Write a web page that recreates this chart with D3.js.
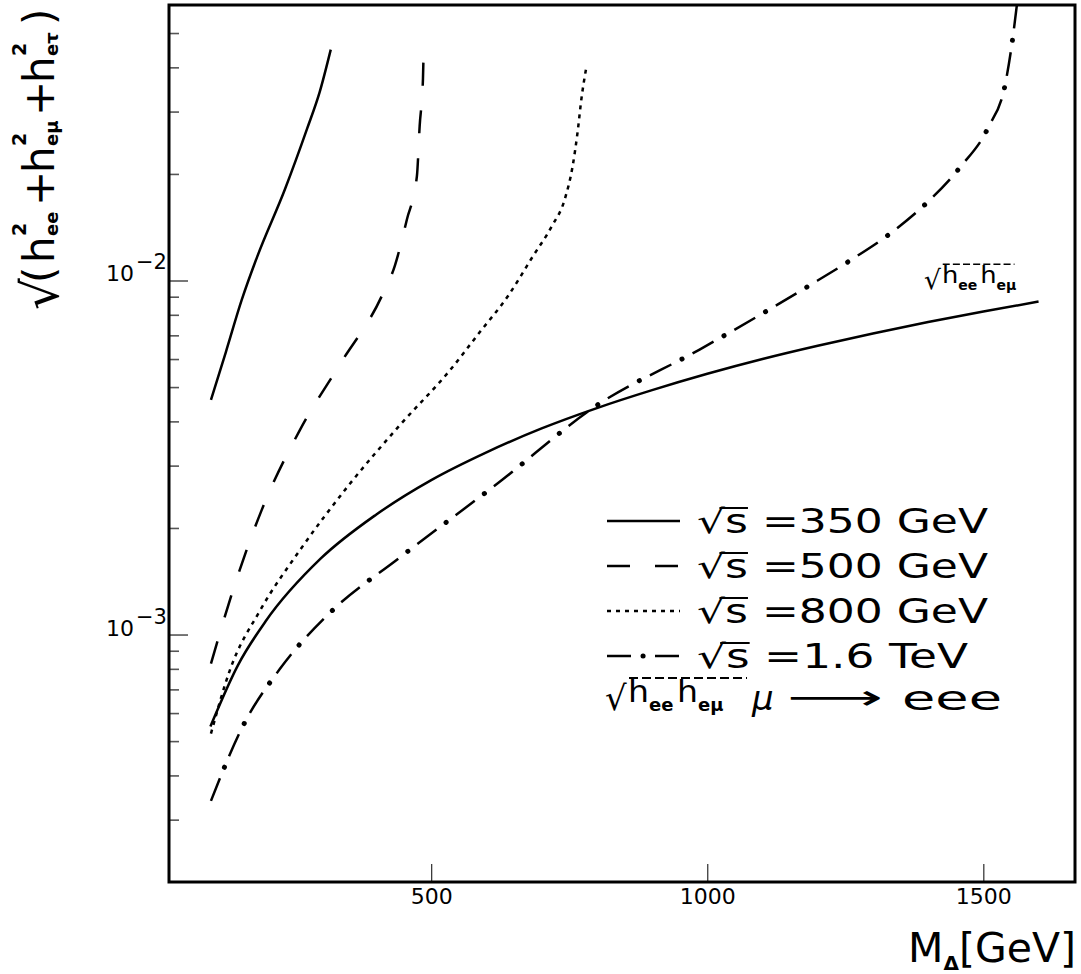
<!DOCTYPE html>
<html><head><meta charset="utf-8">
<script src="https://cdn.jsdelivr.net/npm/d3@7"></script>
<style>
body{margin:0;background:#fff}
svg{display:block}
text{font-family:"DejaVu Sans",sans-serif;fill:#000}
</style>
</head><body>
<svg id="chart" width="1081" height="974"></svg>
<script>
// ---------------- data ----------------
const massTicks = [500, 1000, 1500];
const majorYTicks = [1e-3, 1e-2];
const majorYExponents = ["\u22123", "\u22122"];
const minorYTicks = [3e-4,4e-4,5e-4,6e-4,7e-4,8e-4,9e-4,2e-3,3e-3,4e-3,5e-3,6e-3,7e-3,8e-3,9e-3,2e-2,3e-2,4e-2,5e-2];

const legendLabels = ["\u221As =350 GeV", "\u221As =500 GeV", "\u221As =800 GeV", "\u221As =1.6 TeV"];

// sqrt(s) = 350 GeV  (solid)
const m350 = [101, 128, 157, 185, 235, 275, 298, 318];
const h350 = [4.6e-3, 6.28e-3, 8.84e-3, 1.17e-2, 1.81e-2, 2.68e-2, 3.41e-2, 4.49e-2];
// sqrt(s) = 500 GeV  (dashed)
const m500 = [101, 144, 193, 262, 334, 410, 434, 456, 474, 479, 485, 486];
const h500 = [8.28e-4, 1.38e-3, 2.25e-3, 3.78e-3, 5.78e-3, 9.01e-3, 1.10e-2, 1.49e-2, 1.97e-2, 2.73e-2, 3.71e-2, 4.34e-2];
// sqrt(s) = 800 GeV  (dotted)
const m800 = [101, 135, 190, 262, 353, 443, 534, 588, 639, 684, 718, 742, 756, 765, 772, 781];
const h800 = [5.25e-4, 7.91e-4, 1.17e-3, 1.73e-3, 2.67e-3, 3.90e-3, 5.58e-3, 7.15e-3, 9.04e-3, 1.17e-2, 1.42e-2, 1.70e-2, 2.10e-2, 2.62e-2, 3.26e-2, 4.01e-2];
// sqrt(s) = 1.6 TeV  (dash-dot)
const m1600 = [101, 159, 226, 316, 443, 624, 799, 986, 1185, 1259, 1332, 1398, 1458, 1509, 1540, 1554, 1561];
const h1600 = [3.39e-4, 5.52e-4, 8.0e-4, 1.15e-3, 1.65e-3, 2.70e-3, 4.43e-3, 6.38e-3, 9.68e-3, 1.14e-2, 1.36e-2, 1.66e-2, 2.09e-2, 2.71e-2, 3.61e-2, 4.94e-2, 6.05e-2];
// sqrt(h_ee h_emu) bound from mu -> eee (solid)
const mMu = [100, 150, 200, 300, 400, 500, 600, 700, 800, 900, 1000, 1100, 1200, 1300, 1400, 1500, 1600];
const hMu = [5.5e-4, 8.2e-4, 1.09e-3, 1.64e-3, 2.18e-3, 2.73e-3, 3.27e-3, 3.82e-3, 4.36e-3, 4.9e-3, 5.45e-3, 6.0e-3, 6.54e-3, 7.08e-3, 7.63e-3, 8.17e-3, 8.72e-3];

// ---------------- layout ----------------
const L = 169, R = 1075, T = 5, B = 882;
const svg = d3.select("#chart");
const x = d3.scaleLinear().domain([25, 1666]).range([L, R]);
const y = d3.scaleLog().domain([2e-4, 6e-2]).range([B, T]);

svg.append("defs").append("clipPath").attr("id","plotclip")
  .append("rect").attr("x",L).attr("y",T).attr("width",R-L).attr("height",B-T);

// x axis (ticks pointing inward)
const xAxis = svg.append("g").attr("transform",`translate(0,${B})`)
  .call(d3.axisBottom(x).tickValues(massTicks).tickSizeInner(-18).tickSizeOuter(0).tickPadding(6).tickFormat(d3.format("d")));
xAxis.select(".domain").remove();
xAxis.selectAll(".tick line").attr("stroke","#000").attr("stroke-width",1);
xAxis.selectAll(".tick text").style("font-family","DejaVu Sans").style("font-size","22px").attr("fill","#000");

// y axis major and minor ticks (inward)
const yMaj = svg.append("g").attr("transform",`translate(${L},0)`)
  .call(d3.axisLeft(y).tickValues(majorYTicks).tickSizeInner(-19).tickSizeOuter(0).tickFormat(""));
yMaj.select(".domain").remove();
yMaj.selectAll(".tick line").attr("stroke","#555").attr("stroke-width",1.6);
const yMin = svg.append("g").attr("transform",`translate(${L},0)`)
  .call(d3.axisLeft(y).tickValues(minorYTicks).tickSizeInner(-10).tickSizeOuter(0).tickFormat(""));
yMin.select(".domain").remove();
yMin.selectAll(".tick line").attr("stroke","#555").attr("stroke-width",1.6);

// y tick labels 10^-n
majorYTicks.forEach((v,i)=>{
  const yy = y(v);
  svg.append("text").attr("x",134).attr("y",yy+1).attr("text-anchor","end")
    .style("font-size","22px").text("10");
  svg.append("text").attr("x",136).attr("y",yy-11)
    .style("font-size","21px").text(majorYExponents[i]);
});

// frame
svg.append("rect").attr("x",L).attr("y",T).attr("width",R-L).attr("height",B-T)
  .attr("fill","none").attr("stroke","#000").attr("stroke-width",3);

// ---------------- curves ----------------
const line = d3.line().x(d=>x(d[0])).y(d=>y(d[1])).curve(d3.curveMonotoneX);
const plot = svg.append("g").attr("clip-path","url(#plotclip)");
const zip = (a,b)=>a.map((v,i)=>[v,b[i]]);

function drawStyled(g, pathD, style){
  if(style==="dashdot"){
    g.append("path").attr("d",pathD).attr("fill","none").attr("stroke","#000")
      .attr("stroke-width",2.5).attr("stroke-dasharray","24,24");
    g.append("path").attr("d",pathD).attr("fill","none").attr("stroke","#000")
      .attr("stroke-width",5).attr("stroke-linecap","round")
      .attr("stroke-dasharray","0.1,47.9").attr("stroke-dashoffset",12);
  } else {
    const p = g.append("path").attr("d",pathD).attr("fill","none").attr("stroke","#000").attr("stroke-width",2.5);
    if(style==="dashed") p.attr("stroke-dasharray","23,25");
    if(style==="dotted") p.attr("stroke-dasharray","4,5");
  }
}
drawStyled(plot, line(zip(m350,h350)), "solid");
drawStyled(plot, line(zip(m500,h500)), "dashed");
drawStyled(plot, line(zip(m800,h800)), "dotted");
drawStyled(plot, line(zip(m1600,h1600)), "dashdot");
drawStyled(plot, line(zip(mMu,hMu)), "solid");

// ---------------- legend ----------------
const legendStyles = ["solid","dashed","dotted","dashdot"];
const legendY = [521, 566, 611, 656];
const legendEnd = [988, 988, 988, 968];
legendLabels.forEach((lab,i)=>{
  const ly = legendY[i];
  drawStyled(svg, `M607,${ly}L680,${ly}`, legendStyles[i]);
  const t = svg.append("text").attr("x",697).attr("y",ly+12)
    .style("font-size","33px")
    .attr("textLength",legendEnd[i]-697).attr("lengthAdjust","spacingAndGlyphs")
    .text(lab);
  // bar over the s of the square root
  const n = t.node();
  const s1 = n.getEndPositionOfChar(1).x;
  const r0 = n.getStartPositionOfChar(0).x, r1 = n.getEndPositionOfChar(0).x;
  svg.append("line").attr("x1",r0+(r1-r0)*0.8).attr("x2",s1)
    .attr("y1",ly-13).attr("y2",ly-13).attr("stroke","#000").attr("stroke-width",2);
});

// sqrt(h_ee h_emu) label builder
function sqrtHH(g, x0, base, k, barEnd){
  g.append("text").attr("x",x0).attr("y",base+8*k).style("font-size",(34*k)+"px").text("\u221A");
  const hx = [x0+23*k, x0+72*k];
  const subs = ["ee","e\u03BC"];
  hx.forEach((hxx,i)=>{
    g.append("text").attr("x",hxx).attr("y",base).attr("textLength",21*k).attr("lengthAdjust","spacingAndGlyphs")
      .style("font-size",(30*k)+"px").text("h");
    g.append("text").attr("x",hxx+21*k).attr("y",base+9*k)
      .style("font-size",(18*k)+"px").style("font-weight","bold").text(subs[i]);
  });
  g.append("line").attr("x1",x0+24*k).attr("x2",x0+barEnd*k)
    .attr("y1",base-24*k).attr("y2",base-24*k)
    .attr("stroke","#000").attr("stroke-width",1.8*k).attr("stroke-dasharray",`${9*k},${4*k}`);
}
sqrtHH(svg, 605, 702, 1, 142);
svg.append("text").attr("x",752).attr("y",710).style("font-size","34px").style("font-style","italic").text("\u03BC");
svg.append("text").attr("x",787).attr("y",709).style("font-size","34px")
  .attr("textLength",96).attr("lengthAdjust","spacingAndGlyphs").text("\u27F6");
svg.append("text").attr("x",902).attr("y",710).style("font-size","34px")
  .attr("textLength",100).attr("lengthAdjust","spacingAndGlyphs").text("eee");

// annotation near end of the mu->eee curve
sqrtHH(svg, 924, 283, 0.78, 116);

// ---------------- axis titles ----------------
const xt = svg.append("text").attr("x",1076).attr("y",962).attr("text-anchor","end").style("font-size","41px");
xt.append("tspan").text("M");
xt.append("tspan").attr("dy",8).style("font-size","20px").style("font-weight","bold").text("\u0394");
xt.append("tspan").attr("dy",-8).text("[GeV]");

// y title: sqrt(h_ee^2 + h_emu^2 + h_etau^2), rotated
const yt = svg.append("g").attr("transform","translate(54,310) rotate(-90)");
const F = 42;
yt.append("text").attr("x",0).attr("y",4).style("font-size","50px").text("\u221A");
yt.append("text").attr("x",27).attr("y",0).style("font-size",F+"px").text("(");
function hsq(u, sub){
  yt.append("text").attr("x",u).attr("y",0).style("font-size",F+"px").text("h");
  yt.append("text").attr("x",u+27).attr("y",-28).style("font-size","19px").style("font-weight","bold").text("2");
  yt.append("text").attr("x",u+27).attr("y",4).style("font-size","18px").style("font-weight","bold").text(sub);
}
hsq(47,"ee");
yt.append("text").attr("x",104).attr("y",0).style("font-size",F+"px").text("+");
hsq(137,"e\u03BC");
yt.append("text").attr("x",194).attr("y",0).style("font-size",F+"px").text("+");
hsq(227,"e\u03C4");
yt.append("text").attr("x",285).attr("y",0).style("font-size",F+"px").text(")");
</script>
</body></html>
